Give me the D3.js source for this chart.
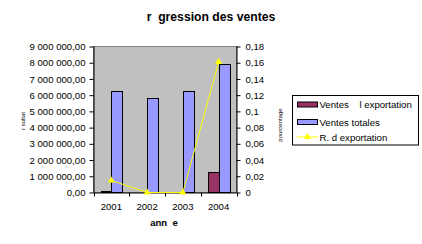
<!DOCTYPE html>
<html><head><meta charset="utf-8">
<script src="https://cdn.jsdelivr.net/npm/d3@7"></script>
<style>
html,body{margin:0;padding:0;background:#fff;}
svg{display:block;font-family:"Liberation Sans",Arial,sans-serif;}
</style></head>
<body><svg id="c" width="422" height="244"></svg>
<script>
const years = ["2001","2002","2003","2004"];
const ventesExport = [90000, 0, 0, 1240000];
const ventesTotales = [6260000, 5810000, 6260000, 7930000];
const ratioExport = [0.0148, 0, 0, 0.161];
const leftTicks = [0,1e6,2e6,3e6,4e6,5e6,6e6,7e6,8e6,9e6];
const rightTicks = [0,0.02,0.04,0.06,0.08,0.1,0.12,0.14,0.16,0.18];
const seriesNames = ["Ventes    l exportation","Ventes totales","R. d exportation"];
const colors = ["#993366","#9999FF","#FFFF00"];

const svg = d3.select("#c");
const L=93.5, R=236.5, T=46.5, B=192.5;

const x0 = d3.scaleBand().domain(years).range([L,R]).padding(0);
const groupW = x0.bandwidth()*0.59;
const x1 = d3.scaleBand().domain([0,1]).range([-groupW/2, groupW/2]);
const yL = d3.scaleLinear().domain([0,9e6]).range([B,T]);
const yR = d3.scaleLinear().domain([0,0.18]).range([B,T]);

// plot area
svg.append("rect").attr("x",L).attr("y",T).attr("width",R-L).attr("height",B-T)
  .attr("fill","#C0C0C0").attr("stroke","#808080").attr("stroke-width",1);

// bars
const data = years.map((y,i)=>({y, v:[ventesExport[i], ventesTotales[i]]}));
const g = svg.append("g");
data.forEach(d=>{
  d.v.forEach((v,j)=>{
    if(v<=0) return;
    const cx = x0(d.y)+x0.bandwidth()/2;
    g.append("rect")
      .attr("x", Math.round(cx + x1(j))+0.5)
      .attr("y", Math.round(yL(v))+0.5)
      .attr("width", Math.round(x1.bandwidth()))
      .attr("height", Math.max(0, B - Math.round(yL(v))-0.5))
      .attr("fill", colors[j]).attr("stroke","#000").attr("stroke-width",1);
  });
});

// axes
const fmtL = v => d3.format(",.2f")(v).replace(/,/g," ").replace(".",",");
const fmtR = v => String(+v.toFixed(2)).replace(".",",");
const axL = svg.append("g").attr("transform",`translate(${L},0)`)
  .call(d3.axisLeft(yL).tickValues(leftTicks).tickFormat(fmtL).tickSize(4).tickPadding(4));
const axR = svg.append("g").attr("transform",`translate(${R},0)`)
  .call(d3.axisRight(yR).tickValues(rightTicks).tickFormat(fmtR).tickSize(4).tickPadding(5));
const axB = svg.append("g").attr("transform",`translate(0,${B})`)
  .call(d3.axisBottom(x0).tickSize(0).tickPadding(11));
// category boundary ticks
const bounds = years.map(y=>x0(y)).concat([R]);
svg.append("g").selectAll("line").data(bounds).join("line")
  .attr("x1",d=>Math.round(d)+0.5).attr("x2",d=>Math.round(d)+0.5)
  .attr("y1",B).attr("y2",B+4).attr("stroke","#000");
[axL,axR,axB].forEach(a=>{
  a.selectAll("path.domain").attr("stroke","#000");
  a.selectAll("line").attr("stroke","#000");
  a.selectAll("text").attr("font-size","9.6px").attr("fill","#000")
   .attr("font-family","'Liberation Sans',Arial,sans-serif");
});
axL.select("path.domain").attr("d",`M0.5,${T}V${B}`);
axR.select("path.domain").attr("d",`M0.5,${T}V${B}`);
axB.select("path.domain").attr("d",`M${L},0.5H${R}`);

// line
const line = d3.line().x((d,i)=>x0(years[i])+x0.bandwidth()/2).y(d=>yR(d));
svg.append("path").datum(ratioExport).attr("d",line)
  .attr("fill","none").attr("stroke",colors[2]).attr("stroke-width",1);
const tri = d3.symbol().type(d3.symbolTriangle).size(22);
svg.append("g").selectAll("path").data(ratioExport).join("path")
  .attr("transform",(d,i)=>`translate(${x0(years[i])+x0.bandwidth()/2},${yR(d)})`)
  .attr("d",tri).attr("fill",colors[2]);

// title
svg.append("text").attr("x",211).attr("y",21).attr("text-anchor","middle")
  .attr("font-size","12.2px").attr("font-weight","bold")
  .style("white-space","pre").text("r  gression des ventes");
// x title
svg.append("text").attr("x",164).attr("y",226).attr("text-anchor","middle")
  .attr("font-size","9.6px").attr("font-weight","bold").style("white-space","pre")
  .text("ann  e");
// y titles
svg.append("text").attr("transform","translate(25,121) rotate(-90)").attr("text-anchor","middle")
  .attr("font-size","6px").text("r sultat").style("white-space","pre");
svg.append("text").attr("transform","translate(282,125) rotate(-90)").attr("text-anchor","middle")
  .attr("font-size","6px").text("pourcentage");

// legend
const lg = svg.append("g");
lg.append("rect").attr("x",292.5).attr("y",95.5).attr("width",126).attr("height",49.5)
  .attr("fill","#fff").attr("stroke","#000");
const ly = [104.5, 122, 137];
seriesNames.forEach((n,i)=>{
  if(i<2){
    lg.append("rect").attr("x",297.5).attr("y",ly[i]-2.5).attr("width",20).attr("height",5)
      .attr("fill",colors[i]).attr("stroke","#000");
  } else {
    lg.append("line").attr("x1",297).attr("x2",318).attr("y1",ly[i]).attr("y2",ly[i])
      .attr("stroke",colors[2]);
    lg.append("path").attr("transform",`translate(307.5,${ly[i]})`).attr("d",tri).attr("fill",colors[2]);
  }
  lg.append("text").attr("x",319.5).attr("y",ly[i]+3.5).attr("font-size","9.6px")
    .style("white-space","pre").text(n);
});
</script></body></html>
